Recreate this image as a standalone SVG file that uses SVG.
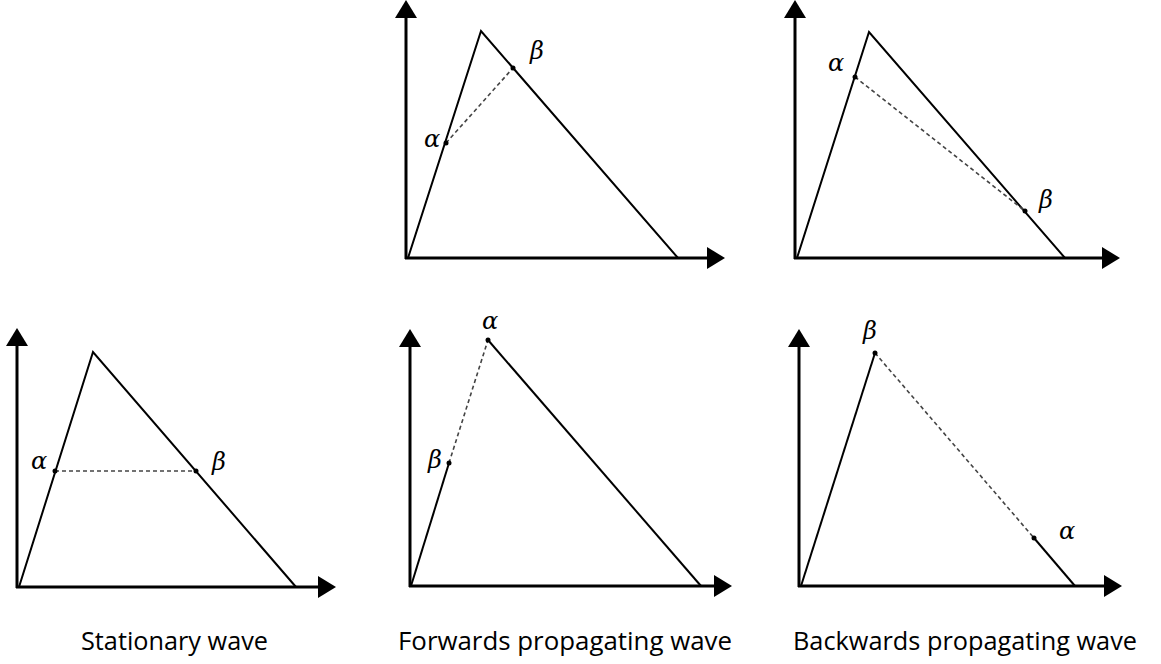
<svg xmlns="http://www.w3.org/2000/svg" width="1161" height="664" viewBox="0 0 1161 664">
<style>
.axis{stroke:#000;stroke-width:3;fill:none}
.edge{stroke:#000;stroke-width:2;fill:none;stroke-linejoin:miter}
.dash{stroke:#444;stroke-width:1.6;stroke-dasharray:4 3;fill:none}
.pt{fill:#000}
.gr{font-family:"DejaVu Serif","Liberation Serif",serif;font-style:italic;font-size:24px;fill:#000;text-anchor:middle}
.cap{font-family:"Open Sans","Liberation Sans",sans-serif;font-size:26px;fill:#000;text-anchor:middle}
</style>
<defs>
<marker id="ah" markerUnits="userSpaceOnUse" markerWidth="20" markerHeight="24" refX="0" refY="11" orient="auto" viewBox="0 0 20 24">
<path d="M0,0 L18,11 L0,22 z" fill="#000"/>
</marker>
</defs>
<rect width="1161" height="664" fill="#fff"/>
<g id="connectors">
<line class="axis" x1="406" y1="259" x2="406" y2="18" marker-end="url(#ah)"/>
<line class="axis" x1="405" y1="258" x2="707" y2="258" marker-end="url(#ah)"/>
<line class="axis" x1="795" y1="259" x2="795" y2="18" marker-end="url(#ah)"/>
<line class="axis" x1="794" y1="258" x2="1102" y2="258" marker-end="url(#ah)"/>
<line class="axis" x1="17" y1="588" x2="17" y2="346" marker-end="url(#ah)"/>
<line class="axis" x1="16" y1="587" x2="318" y2="587" marker-end="url(#ah)"/>
<line class="axis" x1="410" y1="587" x2="410" y2="347" marker-end="url(#ah)"/>
<line class="axis" x1="409" y1="586" x2="714" y2="586" marker-end="url(#ah)"/>
<line class="axis" x1="799" y1="587" x2="799" y2="347" marker-end="url(#ah)"/>
<line class="axis" x1="798" y1="586" x2="1104" y2="586" marker-end="url(#ah)"/>
</g>
<g id="forwards-top">
<polyline class="edge" points="408,258 481,31 678,258"/>
<line class="dash" x1="446" y1="143" x2="513" y2="68"/>
<circle class="pt" cx="446" cy="143" r="2.5"/>
<circle class="pt" cx="513" cy="68" r="2.5"/>
<text class="gr" x="432" y="147">α</text>
<text class="gr" x="537" y="59">β</text>
</g>
<g id="backwards-top">
<polyline class="edge" points="797,258 869,32 1065,258"/>
<line class="dash" x1="855" y1="77" x2="1025" y2="211"/>
<circle class="pt" cx="855" cy="77" r="2.5"/>
<circle class="pt" cx="1025" cy="211" r="2.5"/>
<text class="gr" x="836" y="71">α</text>
<text class="gr" x="1046" y="208">β</text>
</g>
<g id="stationary">
<polyline class="edge" points="19,587 93,352 296,587"/>
<line class="dash" x1="55" y1="471" x2="196" y2="471"/>
<circle class="pt" cx="55" cy="471" r="2.5"/>
<circle class="pt" cx="196" cy="471" r="2.5"/>
<text class="gr" x="39" y="469">α</text>
<text class="gr" x="219" y="470">β</text>
</g>
<g id="forwards-bottom">
<line class="edge" x1="411" y1="586" x2="449" y2="463"/>
<line class="edge" x1="488" y1="340" x2="701" y2="586"/>
<line class="dash" x1="449" y1="463" x2="488" y2="340"/>
<circle class="pt" cx="488" cy="340" r="2.5"/>
<circle class="pt" cx="449" cy="463" r="2.5"/>
<text class="gr" x="490" y="329">α</text>
<text class="gr" x="435" y="468">β</text>
</g>
<g id="backwards-bottom">
<line class="edge" x1="801" y1="586" x2="875" y2="353"/>
<line class="edge" x1="1034" y1="538" x2="1075" y2="586"/>
<line class="dash" x1="875" y1="353" x2="1034" y2="538"/>
<circle class="pt" cx="875" cy="353" r="2.5"/>
<circle class="pt" cx="1034" cy="538" r="2.5"/>
<text class="gr" x="870" y="339">β</text>
<text class="gr" x="1067" y="539">α</text>
</g>
<g id="captions">
<text class="cap" x="174.5" y="650" textLength="187" lengthAdjust="spacingAndGlyphs">Stationary wave</text>
<text class="cap" x="565" y="650" textLength="334" lengthAdjust="spacingAndGlyphs">Forwards propagating wave</text>
<text class="cap" x="965" y="650" textLength="344" lengthAdjust="spacingAndGlyphs">Backwards propagating wave</text>
</g>
</svg>
